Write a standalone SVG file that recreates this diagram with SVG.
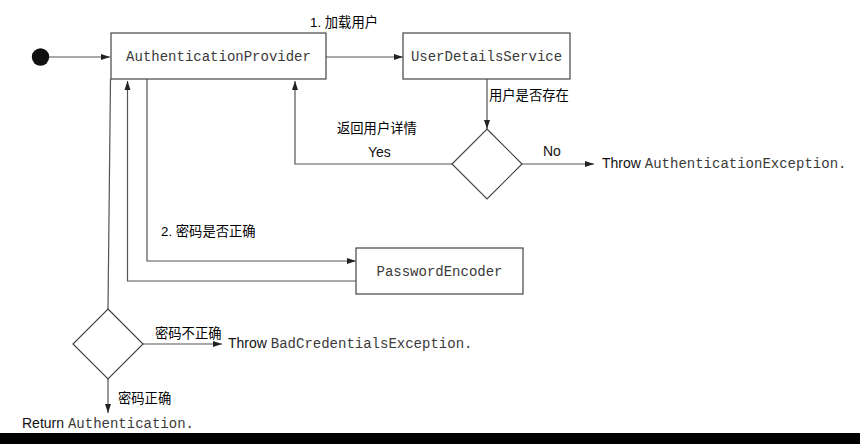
<svg xmlns="http://www.w3.org/2000/svg" width="860" height="444" viewBox="0 0 860 444">
<style>
.box{fill:#fff;stroke:#444;stroke-width:1.2}
.ln{fill:none;stroke:#555;stroke-width:1.2}
.mono{font-family:"Liberation Mono","DejaVu Sans Mono",monospace;font-size:14px;fill:#3a3a3a}
.lbl{font-family:"Liberation Sans","Noto Sans CJK SC",sans-serif;font-size:13.3px;fill:#000}
.txt{font-family:"Liberation Sans","Noto Sans CJK SC",sans-serif;font-size:14px;fill:#111}
</style>
<defs>
<marker id="arr" markerUnits="userSpaceOnUse" markerWidth="10" markerHeight="7" refX="9" refY="3.5" orient="auto">
<path d="M0,0.5 L9,3.5 L0,6.5 z" fill="#222"/>
</marker>
</defs>
<rect x="0" y="0" width="860" height="444" fill="#fff"/>
<g id="connectors">
<line class="ln" x1="49" y1="57" x2="110" y2="57" marker-end="url(#arr)"/>
<line class="ln" x1="326" y1="57" x2="403" y2="57" marker-end="url(#arr)"/>
<line class="ln" x1="487" y1="79" x2="487" y2="129" marker-end="url(#arr)"/>
<polyline class="ln" points="452,164 295,164 295,81" marker-end="url(#arr)"/>
<line class="ln" x1="522" y1="164" x2="594" y2="164" marker-end="url(#arr)"/>
<polyline class="ln" points="356,281 127.5,281 127.5,81" marker-end="url(#arr)"/>
<polyline class="ln" points="147,79 147,261 356,261" marker-end="url(#arr)"/>
<line class="ln" x1="110.5" y1="79" x2="108" y2="309"/>
<line class="ln" x1="143" y1="344" x2="222" y2="344" marker-end="url(#arr)"/>
<line class="ln" x1="108" y1="379" x2="108" y2="413" marker-end="url(#arr)"/>
</g>
<g id="start"><circle cx="40.5" cy="57" r="8.7" fill="#111"/></g>
<g id="authProvider">
<rect class="box" x="111" y="33" width="215" height="46"/>
<text class="mono" x="218.5" y="61" text-anchor="middle">AuthenticationProvider</text>
</g>
<g id="userDetailsService">
<rect class="box" x="403" y="33" width="167" height="46"/>
<text class="mono" x="486.5" y="61" text-anchor="middle">UserDetailsService</text>
</g>
<g id="passwordEncoder">
<rect class="box" x="356" y="248" width="167" height="46"/>
<text class="mono" x="439.5" y="276" text-anchor="middle">PasswordEncoder</text>
</g>
<g id="decisionUser">
<polygon class="box" points="487,129 522,164 487,199 452,164"/>
</g>
<g id="decisionPassword">
<polygon class="box" points="108,309 143,344 108,379 73,344"/>
</g>
<g id="labels">
<text class="lbl" x="310" y="27">1. 加载用户</text>
<text class="lbl" x="489" y="100">用户是否存在</text>
<text class="lbl" x="337" y="133">返回用户详情</text>
<text class="txt" x="368" y="157">Yes</text>
<text class="txt" x="543" y="156">No</text>
<text class="txt" x="602" y="168">Throw <tspan class="mono">AuthenticationException.</tspan></text>
<text class="lbl" x="161" y="236">2. 密码是否正确</text>
<text class="lbl" x="155" y="338">密码不正确</text>
<text class="txt" x="228" y="348">Throw <tspan class="mono">BadCredentialsException.</tspan></text>
<text class="lbl" x="118" y="403">密码正确</text>
<text class="txt" x="22" y="428">Return <tspan class="mono">Authentication.</tspan></text>
</g>
<rect x="0" y="433" width="860" height="11" fill="#000"/>
</svg>
